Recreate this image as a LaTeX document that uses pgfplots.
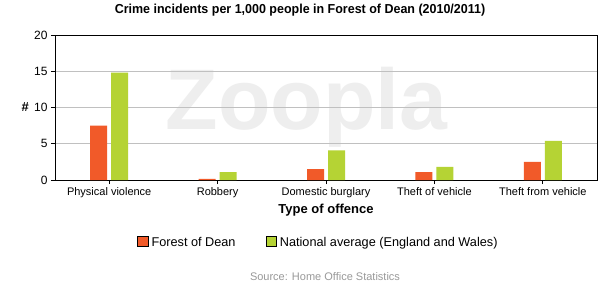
\documentclass[border=0pt]{standalone}
\usepackage{pgfplots}
\pgfplotsset{compat=1.18}
\usepackage{fontspec}
\setmainfont{Liberation Sans}
\definecolor{fod}{HTML}{F15A29}
\definecolor{nat}{HTML}{B5D334}
\definecolor{gridc}{HTML}{C0C0C0}
\definecolor{wm}{HTML}{EEEEEE}
\definecolor{src}{HTML}{999999}
\begin{document}
\begin{tikzpicture}[x=1pt,y=1pt]
\path[use as bounding box, fill=white] (0pt,0pt) rectangle (600pt,285pt);
% watermark
\node[anchor=base, text=wm, font=\fontsize{86}{86}\selectfont\bfseries, inner sep=0pt] at (306.5pt,156pt) {Zoopla};
% title
\node[font=\fontsize{13}{15}\selectfont\bfseries, xscale=0.96] at (300pt,274.5pt) {Crime incidents per 1,000 people in Forest of Dean (2010/2011)};
\begin{axis}[
  at={(55pt,105pt)}, anchor=south west,
  scale only axis, width=542pt, height=145pt,
  ybar, bar width=17pt, ybar=4pt,
  xmin=-0.5, xmax=4.5, ymin=0, ymax=20,
  xtick=data,
  xticklabels={Physical violence,Robbery,Domestic burglary,Theft of vehicle,Theft from vehicle},
  ytick={0,5,10,15,20},
  ymajorgrids, grid style={gridc, line width=0.8pt},
  axis line style={black, line width=0.8pt},
  tick style={black, line width=0.8pt},
  major tick length=4pt,
  tick align=outside,
  xtick pos=bottom, ytick pos=left,
  tick label style={font=\fontsize{11}{13}\selectfont},
  yticklabel style={font=\fontsize{12}{13}\selectfont},
  /pgf/number format/assume math mode=true,
  xlabel={Type of offence},
  xlabel style={font=\fontsize{13}{15}\selectfont\bfseries, at={(axis description cs:0.5,-0.21)}, anchor=center},
  ylabel={\#},
  ylabel style={font=\fontsize{13}{15}\selectfont\bfseries, rotate=-90, at={(axis description cs:-0.055,0.5)}, anchor=center},
  legend columns=2,
  legend style={at={(axis description cs:0.486,-0.43)}, anchor=center, draw=none, fill=none,
    font=\fontsize{12.7}{14}\selectfont,
    /tikz/every odd column/.append style={column sep=1pt},
    /tikz/every even column/.append style={column sep=28pt}},
  legend image code/.code={\draw[#1, draw=black, line width=0.8pt] (0pt,-4.5pt) rectangle (10.5pt,6pt);},
]
\addplot[fill=fod, draw=none] coordinates {(0,7.5) (1,0.15) (2,1.5) (3,1.1) (4,2.5)};
\addplot[fill=nat, draw=none] coordinates {(0,14.8) (1,1.1) (2,4.1) (3,1.8) (4,5.4)};
\legend{Forest of Dean,National average (England and Wales)}
\end{axis}
\node[text=src, font=\fontsize{11}{13}\selectfont] at (325pt,8pt) {Source: Home Office Statistics};
\end{tikzpicture}
\end{document}
